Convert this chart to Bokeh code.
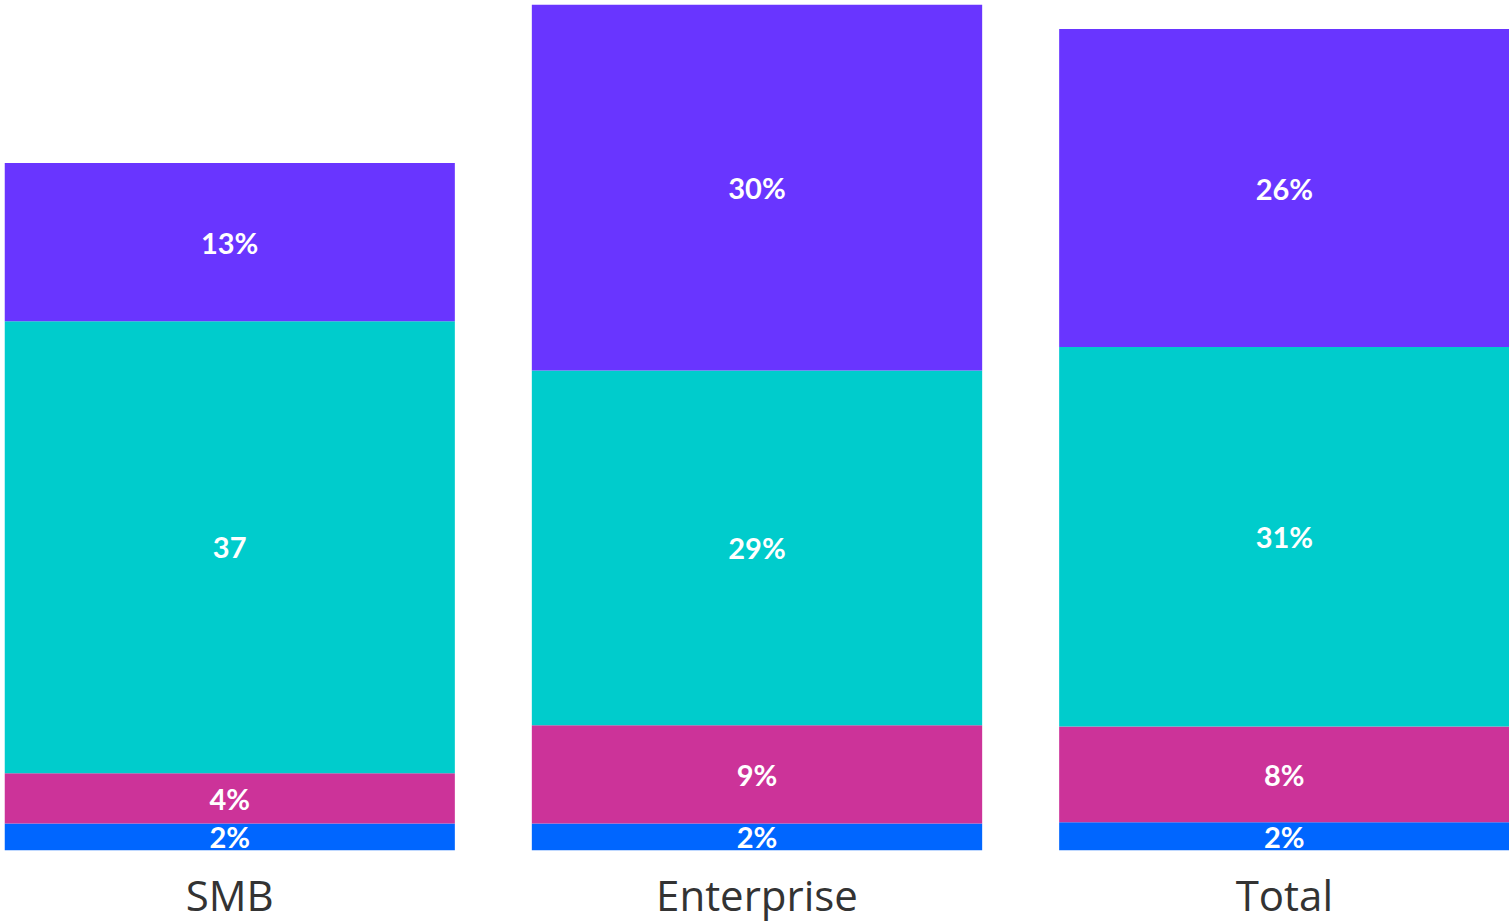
from bokeh.plotting import figure
from bokeh.models import ColumnDataSource, Range1d, FixedTicker
from bokeh.core.properties import value
from bokeh.embed import file_html
from bokeh.resources import INLINE

categories = ["SMB", "Enterprise", "Total"]
series = ["blue", "magenta", "teal", "purple"]
blue_vals = [2.2, 2.2, 2.3]
magenta_vals = [4.1, 8.0, 7.8]
teal_vals = [36.8, 28.9, 30.9]
purple_vals = [12.9, 29.8, 25.9]
labels_blue = ["2%", "2%", "2%"]
labels_magenta = ["4%", "9%", "8%"]
labels_teal = ["37", "29%", "31%"]
labels_purple = ["13%", "30%", "26%"]
colors = ["#0066FF", "#CC3399", "#00CCCC", "#6935FF"]

xs = list(range(len(categories)))
src = ColumnDataSource(dict(x=xs, blue=blue_vals, magenta=magenta_vals,
                            teal=teal_vals, purple=purple_vals))

top = max(b + m + t + p for b, m, t, p in zip(blue_vals, magenta_vals, teal_vals, purple_vals))
bw = 0.854

p = figure(frame_width=1505, frame_height=846, output_backend="svg", toolbar_location=None,
           x_range=Range1d(-bw / 2, len(categories) - 1 + bw / 2), y_range=Range1d(0, top),
           min_border_left=4, min_border_right=0, min_border_top=4, min_border_bottom=0)
p.vbar_stack(series, x="x", width=bw, color=colors, source=src, line_width=0)

lx, ly, lt = [], [], []
for i in xs:
    base = 0.0
    for vals, labs in [(blue_vals, labels_blue), (magenta_vals, labels_magenta),
                       (teal_vals, labels_teal), (purple_vals, labels_purple)]:
        lx.append(i)
        ly.append(base + vals[i] / 2)
        lt.append(labs[i])
        base += vals[i]
p.text(x=lx, y=ly, text=lt, text_align="center", text_baseline="middle",
       text_color="white", text_font=value("Lato"), text_font_style="bold",
       text_font_size="29px")

p.yaxis.visible = False
p.xgrid.visible = False
p.ygrid.visible = False
p.outline_line_color = None
p.xaxis.ticker = FixedTicker(ticks=xs)
p.xaxis.major_label_overrides = {i: c for i, c in zip(xs, categories)}
p.xaxis.axis_line_color = None
p.xaxis.major_tick_line_color = None
p.xaxis.minor_tick_line_color = None
p.xaxis.major_tick_out = 0
p.xaxis.major_tick_in = 0
p.xaxis.major_label_standoff = 15
p.xaxis.major_label_text_font = "Open Sans"
p.xaxis.major_label_text_font_size = "42px"
p.xaxis.major_label_text_color = "#333333"

open("out.html", "w").write(file_html(p, INLINE))
